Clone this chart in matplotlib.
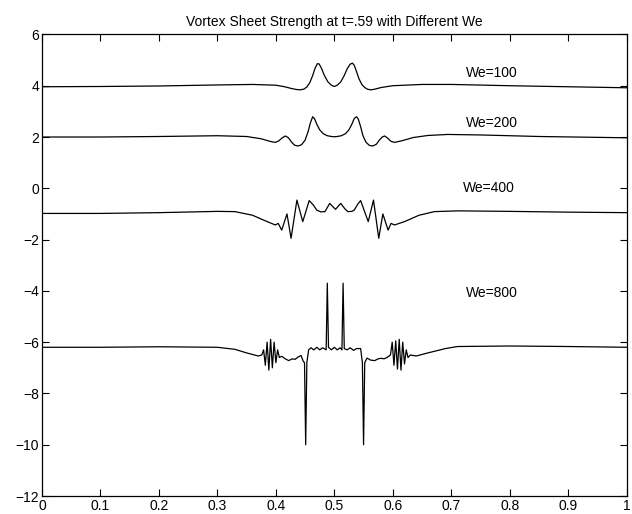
import matplotlib
matplotlib.use('Agg')
import matplotlib.pyplot as plt

plt.rcParams['font.family'] = ['Liberation Sans', 'DejaVu Sans']

# We=100
x100 = [0.0, 0.1, 0.2, 0.3, 0.36, 0.40, 0.415, 0.427, 0.436, 0.442, 0.448, 0.453, 0.458,
        0.463, 0.467, 0.471, 0.474, 0.478, 0.483, 0.489, 0.495, 0.50, 0.505, 0.511, 0.517,
        0.522, 0.527, 0.531, 0.534, 0.538, 0.542, 0.547, 0.552, 0.557, 0.563, 0.57, 0.58,
        0.6, 0.65, 0.7, 0.8, 0.9, 1.0]
y100 = [3.96, 3.97, 3.99, 4.03, 4.05, 4.02, 3.96, 3.89, 3.85, 3.84, 3.87, 3.95, 4.12,
        4.4, 4.68, 4.86, 4.85, 4.68, 4.4, 4.15, 4.02, 3.97, 4.02, 4.15, 4.4,
        4.66, 4.84, 4.88, 4.8, 4.55, 4.28, 4.05, 3.93, 3.86, 3.84, 3.87, 3.93,
        4.0, 4.05, 4.05, 4.0, 3.96, 3.92]

# We=200
x200 = [0.0, 0.1, 0.2, 0.3, 0.35, 0.375, 0.39, 0.399, 0.405, 0.411, 0.416, 0.421, 0.427,
        0.432, 0.438, 0.444, 0.45, 0.455, 0.459, 0.463, 0.466, 0.47, 0.475, 0.481, 0.488,
        0.495, 0.50, 0.505, 0.512, 0.519, 0.525, 0.53, 0.534, 0.538, 0.541, 0.545, 0.549,
        0.554, 0.56, 0.566, 0.572, 0.577, 0.582, 0.586, 0.591, 0.597, 0.603, 0.615, 0.635,
        0.66, 0.694, 0.75, 0.85, 1.0]
y200 = [2.0, 2.0, 2.02, 2.05, 2.02, 1.93, 1.83, 1.79, 1.85, 1.97, 2.04, 1.98, 1.8,
        1.68, 1.65, 1.7, 1.88, 2.2, 2.55, 2.79, 2.72, 2.5, 2.28, 2.13, 2.05,
        2.02, 2.01, 2.02, 2.05, 2.13, 2.28, 2.5, 2.72, 2.79, 2.7, 2.4, 2.05,
        1.8, 1.67, 1.65, 1.72, 1.88, 2.0, 2.04, 1.96, 1.83, 1.79, 1.85, 1.98,
        2.06, 2.1, 2.08, 2.02, 1.97]

# We=400
x400 = [0.0, 0.1, 0.2, 0.3, 0.33, 0.36, 0.38, 0.399, 0.404, 0.41, 0.419, 0.426, 0.436,
        0.446, 0.457, 0.464, 0.47, 0.477, 0.484, 0.492, 0.502, 0.511, 0.518, 0.523, 0.53,
        0.534, 0.54, 0.545, 0.558, 0.567, 0.576, 0.583, 0.592, 0.597, 0.603, 0.62, 0.645,
        0.671, 0.711, 0.8, 0.9, 1.0]
y400 = [-0.98, -0.98, -0.95, -0.9, -0.91, -1.05, -1.25, -1.43, -1.37, -1.63, -1.0, -1.95, -0.46,
        -1.3, -0.48, -0.65, -0.85, -0.92, -0.91, -0.59, -0.82, -0.59, -0.8, -0.91, -0.9,
        -0.85, -0.62, -0.48, -1.3, -0.46, -1.95, -1.0, -1.63, -1.37, -1.43, -1.3, -1.05,
        -0.91, -0.88, -0.9, -0.93, -0.95]

# We=800
x800 = [0.0, 0.1, 0.2, 0.3, 0.33, 0.35, 0.37, 0.376, 0.379, 0.382, 0.385, 0.388, 0.391,
        0.394, 0.397, 0.400, 0.403, 0.406, 0.41, 0.416, 0.422, 0.428, 0.433, 0.438, 0.443,
        0.447, 0.449, 0.451, 0.453, 0.456, 0.46, 0.465, 0.47, 0.475, 0.48, 0.486, 0.488,
        0.49, 0.495, 0.5, 0.505, 0.51, 0.513, 0.515, 0.517, 0.522, 0.527, 0.533, 0.538,
        0.545, 0.548, 0.55, 0.552, 0.556, 0.562, 0.569, 0.575, 0.58, 0.585, 0.59, 0.596,
        0.599, 0.602, 0.605, 0.608, 0.611, 0.614, 0.617, 0.62, 0.623, 0.626, 0.63, 0.64,
        0.66, 0.69, 0.711, 0.8, 0.9, 1.0]
y800 = [-6.2, -6.2, -6.18, -6.2, -6.28, -6.42, -6.54, -6.5, -6.3, -6.9, -6.0, -7.09, -5.89,
        -7.0, -6.0, -6.8, -6.3, -6.6, -6.55, -6.65, -6.72, -6.65, -6.67, -6.58, -6.52,
        -6.75, -6.8, -10.0, -6.8, -6.3, -6.22, -6.3, -6.2, -6.3, -6.22, -6.3, -3.7,
        -6.2, -6.3, -6.2, -6.3, -6.22, -6.3, -3.7, -6.25, -6.3, -6.22, -6.32, -6.25,
        -6.25, -6.8, -10.0, -6.8, -6.62, -6.7, -6.72, -6.65, -6.63, -6.65, -6.6, -6.5,
        -6.0, -6.9, -5.95, -7.05, -5.89, -7.09, -6.0, -6.85, -6.3, -6.6, -6.5, -6.54,
        -6.42, -6.25, -6.17, -6.15, -6.17, -6.2]

labels = ['We=100', 'We=200', 'We=400', 'We=800']
label_pos = [(0.77, 4.5), (0.77, 2.55), (0.765, 0.0), (0.77, -4.1)]

fig = plt.figure(figsize=(6.32, 5.14), dpi=100)
ax = fig.add_axes([0.0665, 0.035, 0.925, 0.898])

for xs, ys in [(x100, y100), (x200, y200), (x400, y400), (x800, y800)]:
    ax.plot(xs, ys, color='black', lw=0.9)

for lab, (lx, ly) in zip(labels, label_pos):
    ax.text(lx, ly, lab, ha='center', va='center', fontsize=10)

ax.set_xlim(0, 1)
ax.set_ylim(-12, 6)
ax.set_xticks([i / 10 for i in range(11)])
ax.set_xticklabels(['0', '0.1', '0.2', '0.3', '0.4', '0.5', '0.6', '0.7', '0.8', '0.9', '1'])
ax.set_yticks(range(-12, 7, 2))
ax.tick_params(direction='in', top=True, right=True, labelsize=10, length=5, width=0.8, pad=2)
for s in ax.spines.values():
    s.set_linewidth(0.9)
ax.set_title('Vortex Sheet Strength at t=.59 with Different We', fontsize=10, pad=6)

fig.savefig('out.png', dpi=100)
